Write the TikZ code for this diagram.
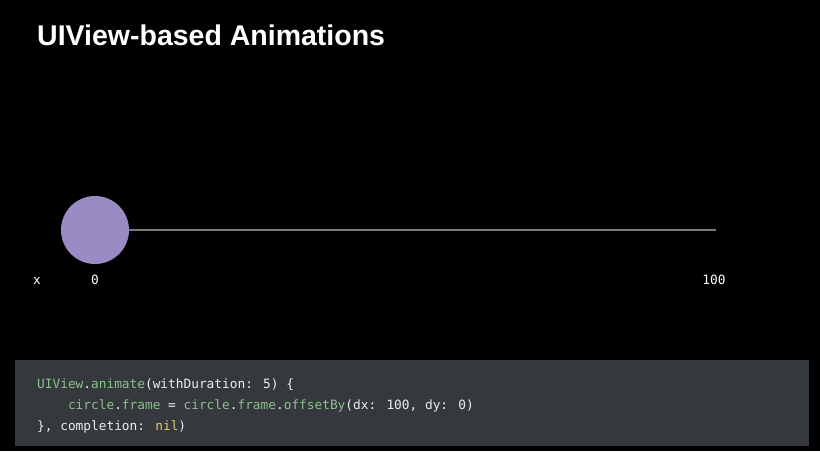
\documentclass[tikz,border=0pt]{standalone}
\usepackage{fontspec}
\setmainfont{Liberation Sans}
\newfontfamily\codefont{DejaVu Sans Mono}
\definecolor{bgc}{HTML}{000000}
\definecolor{dot}{HTML}{9A8BC4}
\definecolor{codebg}{HTML}{35383C}
\definecolor{kw}{HTML}{8CC08C}
\definecolor{nilc}{HTML}{E8C77A}
\definecolor{codefg}{HTML}{EEEEEE}
\definecolor{axis}{HTML}{7A7A7A}
\tikzset{
  lbl/.style={font=\codefont\fontsize{12.8}{15}\selectfont, text=white, inner sep=0pt},
  codeline/.style={font=\codefont\fontsize{12.8}{16}\selectfont, text=codefg, anchor=base west, inner sep=0pt},
}
\begin{document}
\begin{tikzpicture}[x=1pt,y=-1pt]
\fill[bgc] (0,0) rectangle (820,451);
\useasboundingbox (0,0) rectangle (820,451);
\node[anchor=base west, inner sep=0pt, text=white, font=\bfseries\fontsize{28.5}{32}\selectfont] (title) at (37,45) {UIView-based Animations};
\coordinate (lineend) at (716,230);
\node[circle, fill=dot, minimum size=68pt, inner sep=0pt] (ball) at (95,230) {};
\draw[axis, line width=1.5pt] (ball.east) -- (lineend);
\node[lbl] (xl) at (37,281) {x};
\node[lbl] (zero) at (95,280) {0};
\node[lbl] (hund) at (714,280) {100};
\node[fill=codebg, minimum width=794pt, minimum height=86pt, anchor=north west, inner sep=0pt] (code) at (15,360) {};
\node[codeline] (l1) at (37,388) {\textcolor{kw}{UIView}.\textcolor{kw}{animate}(withDuration: 5) \{};
\node[codeline] (l2) at (37,409) {\hphantom{xxxx}\textcolor{kw}{circle}.\textcolor{kw}{frame} = \textcolor{kw}{circle}.\textcolor{kw}{frame}.\textcolor{kw}{offsetBy}(dx: 100, dy: 0)};
\node[codeline] (l3) at (37,430) {\}, completion: \textcolor{nilc}{nil})};
\end{tikzpicture}
\end{document}
